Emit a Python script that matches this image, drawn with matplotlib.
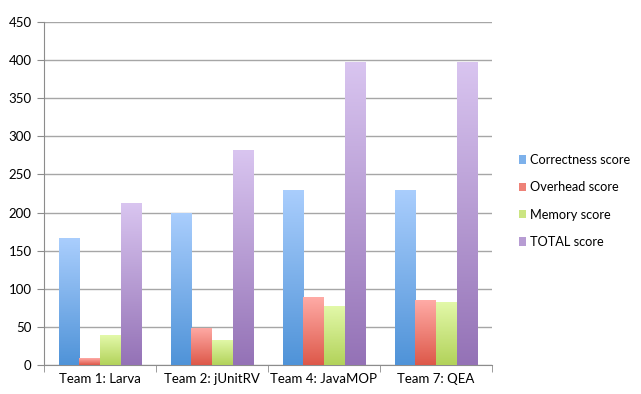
import matplotlib
matplotlib.use('Agg')
import matplotlib.pyplot as plt
import numpy as np
from matplotlib.colors import LinearSegmentedColormap, to_rgb
from matplotlib.patches import Rectangle

plt.rcParams['font.family'] = ['Lato', 'DejaVu Sans']

teams = ['Team 1: Larva', 'Team 2: jUnitRV', 'Team 4: JavaMOP', 'Team 7: QEA']
series = ['Correctness score', 'Overhead score', 'Memory score', 'TOTAL score']
correctness = [166, 200, 230, 230]
overhead = [9, 49, 89, 85]
memory = [39, 33, 78, 83]
total = [212, 282, 397, 397]

# (top colour, bottom colour) for each series
gradients = [('#aacefd', '#4f93d8'),
             ('#ffaba6', '#dd5849'),
             ('#e3f9aa', '#b2d25a'),
             ('#d9c5f0', '#9472b6')]


def gradient_bar(ax, x0, width, height, top, bottom):
    cmap = LinearSegmentedColormap.from_list('g', [bottom, top])
    grad = np.linspace(0, 1, 256).reshape(-1, 1)
    img = ax.imshow(grad, cmap=cmap, origin='lower', aspect='auto',
                    extent=(x0, x0 + width, 0, height), zorder=3)
    clip = Rectangle((x0, 0), width, height, transform=ax.transData)
    img.set_clip_path(clip)


fig = plt.figure(figsize=(6.41, 3.94), dpi=100)
ax = fig.add_axes([44 / 641, 29 / 394, 448 / 641, 343 / 394])

values = [correctness, overhead, memory, total]
bar_w = 0.185
x = np.arange(len(teams))
for i, vals in enumerate(values):
    for j, v in enumerate(vals):
        x0 = x[j] - 2 * bar_w + i * bar_w
        gradient_bar(ax, x0, bar_w, v, *gradients[i])

ax.set_xlim(-0.5, len(teams) - 0.5)
ax.set_ylim(0, 450)
ax.set_yticks(np.arange(0, 451, 50))
ax.yaxis.grid(True, color='#a6a6a6', linewidth=1)
ax.set_axisbelow(True)

ax.set_xticks(x)
ax.set_xticklabels(teams, fontsize=9.5)
ax.tick_params(axis='x', length=0, pad=6)
ax.set_xticks(np.arange(-0.5, len(teams)), minor=True)
ax.tick_params(axis='x', which='minor', length=5, color='#8c8c8c')
ax.tick_params(axis='y', length=5, color='#8c8c8c', labelsize=9.5, pad=4)

for s in ['top', 'right']:
    ax.spines[s].set_visible(False)
ax.spines['left'].set_color('#8c8c8c')
ax.spines['bottom'].set_color('#8c8c8c')

# legend swatches use the middle of each gradient
handles = [Rectangle((0, 0), 1, 1,
                     facecolor=np.mean([to_rgb(top), to_rgb(bottom)], axis=0))
           for top, bottom in gradients]
fig.legend(handles, series, loc='center left', bbox_to_anchor=(507 / 641, 193 / 394),
           frameon=False, fontsize=9.2, handlelength=0.6, handleheight=0.6,
           handletextpad=0.3, labelspacing=1.2)

fig.savefig('out.png', dpi=100)
